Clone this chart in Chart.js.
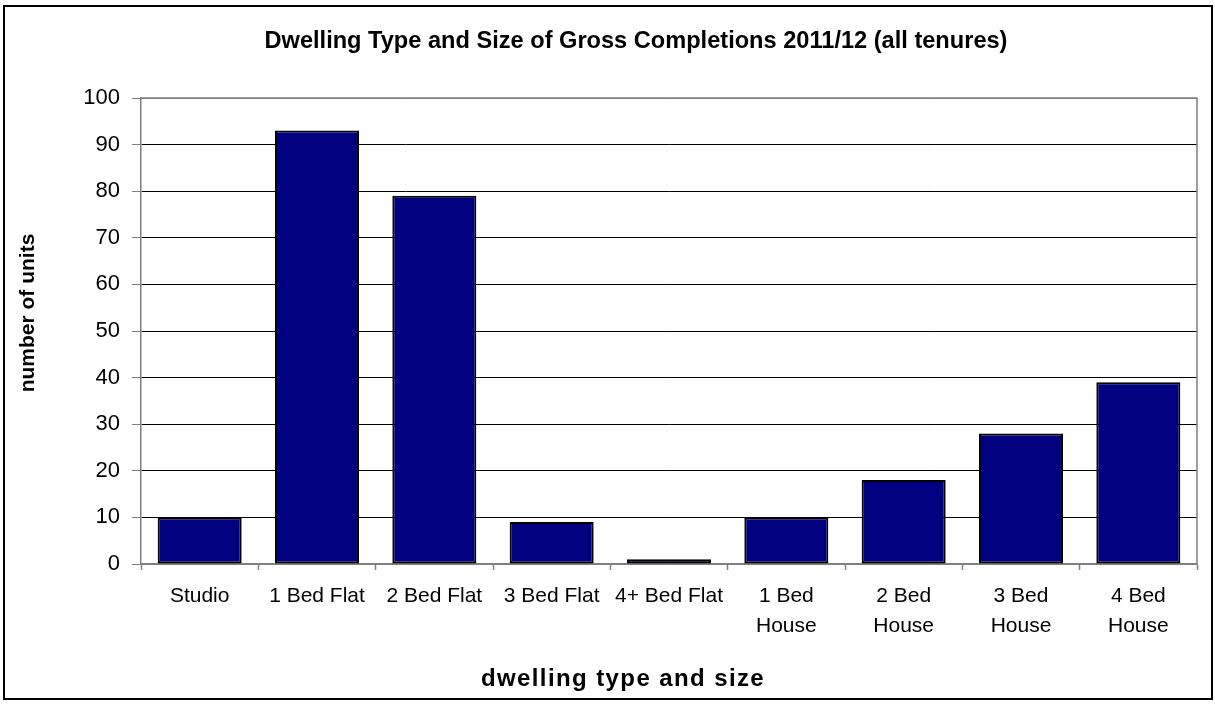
<!DOCTYPE html>
<html>
<head>
<meta charset="utf-8">
<title>Dwelling Type and Size</title>
<script src="https://cdn.jsdelivr.net/npm/chart.js@4.4.1/dist/chart.umd.min.js"></script>
<style>
  html, body { margin: 0; padding: 0; background: #fff; }
  #wrap { width: 1215px; height: 704px; }
</style>
</head>
<body>
<div id="wrap"><canvas id="chart" width="1215" height="704"></canvas></div>
<script>
var chartTitle = 'Dwelling Type and Size of Gross Completions 2011/12 (all tenures)';
var xTitle = 'dwelling type and size';
var yTitle = 'number of units';

var categories = ['Studio', '1 Bed Flat', '2 Bed Flat', '3 Bed Flat', '4+ Bed Flat',
    ['1 Bed', 'House'], ['2 Bed', 'House'], ['3 Bed', 'House'], ['4 Bed', 'House']];
var units = [10, 93, 79, 9, 1, 10, 18, 28, 39];

var yMin = 0;
var yMax = 100;
var yStep = 10;

var fontFamily = '"Liberation Sans", Arial, Helvetica, sans-serif';

// titles + frame, drawn by hand so they sit where the original has them
var decorations = {
    id: 'decorations',
    beforeDraw: function(chart){
        var ctx = chart.ctx;
        ctx.save();
        ctx.fillStyle = '#ffffff';
        ctx.fillRect(0, 0, chart.width, chart.height);
        ctx.restore();
    },
    afterDraw: function(chart){
        var ctx = chart.ctx;
        var area = chart.chartArea;
        ctx.save();

        // plot border top/right
        ctx.strokeStyle = '#808080';
        ctx.lineWidth = 1.5;
        ctx.beginPath();
        ctx.moveTo(area.left, area.top);
        ctx.lineTo(area.right, area.top);
        ctx.lineTo(area.right, area.bottom);
        ctx.stroke();

        // outer frame
        ctx.strokeStyle = '#000000';
        ctx.lineWidth = 2;
        ctx.strokeRect(4, 6, 1208, 693);

        ctx.fillStyle = '#000000';
        ctx.textAlign = 'center';
        ctx.textBaseline = 'alphabetic';

        ctx.font = 'bold 23.6px ' + fontFamily;
        ctx.fillText(chartTitle, 636, 48);

        ctx.font = 'bold 24px ' + fontFamily;
        ctx.letterSpacing = '1.4px';
        ctx.fillText(xTitle, 623, 686);

        ctx.letterSpacing = '0px';
        ctx.font = 'bold 21px ' + fontFamily;
        ctx.translate(34, 313);
        ctx.rotate(-Math.PI / 2);
        ctx.fillText(yTitle, 0, 0);

        ctx.restore();
    }
};

var ctx = document.getElementById('chart').getContext('2d');
var chart = new Chart(ctx, {
    type: 'bar',
    data: {
        labels: categories,
        datasets: [{
            label: yTitle,
            data: units,
            backgroundColor: '#000080',
            borderColor: '#000000',
            borderWidth: 2,
            borderSkipped: false,
            barPercentage: 0.716,
            categoryPercentage: 1.0
        }]
    },
    options: {
        responsive: false,
        animation: false,
        devicePixelRatio: 1,
        layout: {
            padding: { top: 98, right: 18, bottom: 60, left: 10 }
        },
        plugins: {
            legend: { display: false },
            title: { display: false },
            tooltip: { enabled: false }
        },
        scales: {
            x: {
                offset: true,
                afterFit: function(scale){ scale.height = 80; },
                grid: {
                    offset: true,
                    drawOnChartArea: false,
                    drawTicks: true,
                    tickLength: 6,
                    tickColor: '#808080',
                    tickWidth: 1.5
                },
                border: { color: '#808080', width: 1.5 },
                ticks: {
                    color: '#000000',
                    padding: 11,
                    maxRotation: 0,
                    autoSkip: false,
                    font: { family: fontFamily, size: 21, lineHeight: 1.43 }
                }
            },
            y: {
                min: yMin,
                max: yMax,
                afterFit: function(scale){ scale.width = 131; },
                grid: {
                    color: function(c){
                        if (c.tick && (c.tick.value === yMax || c.tick.value === yMin)) return '#808080';
                        return '#000000';
                    },
                    lineWidth: 1,
                    tickLength: 9,
                    tickColor: '#808080'
                },
                border: { color: '#808080', width: 1.5 },
                ticks: {
                    stepSize: yStep,
                    color: '#000000',
                    padding: 12,
                    font: { family: fontFamily, size: 22 }
                }
            }
        }
    },
    plugins: [decorations]
});
</script>
</body>
</html>
